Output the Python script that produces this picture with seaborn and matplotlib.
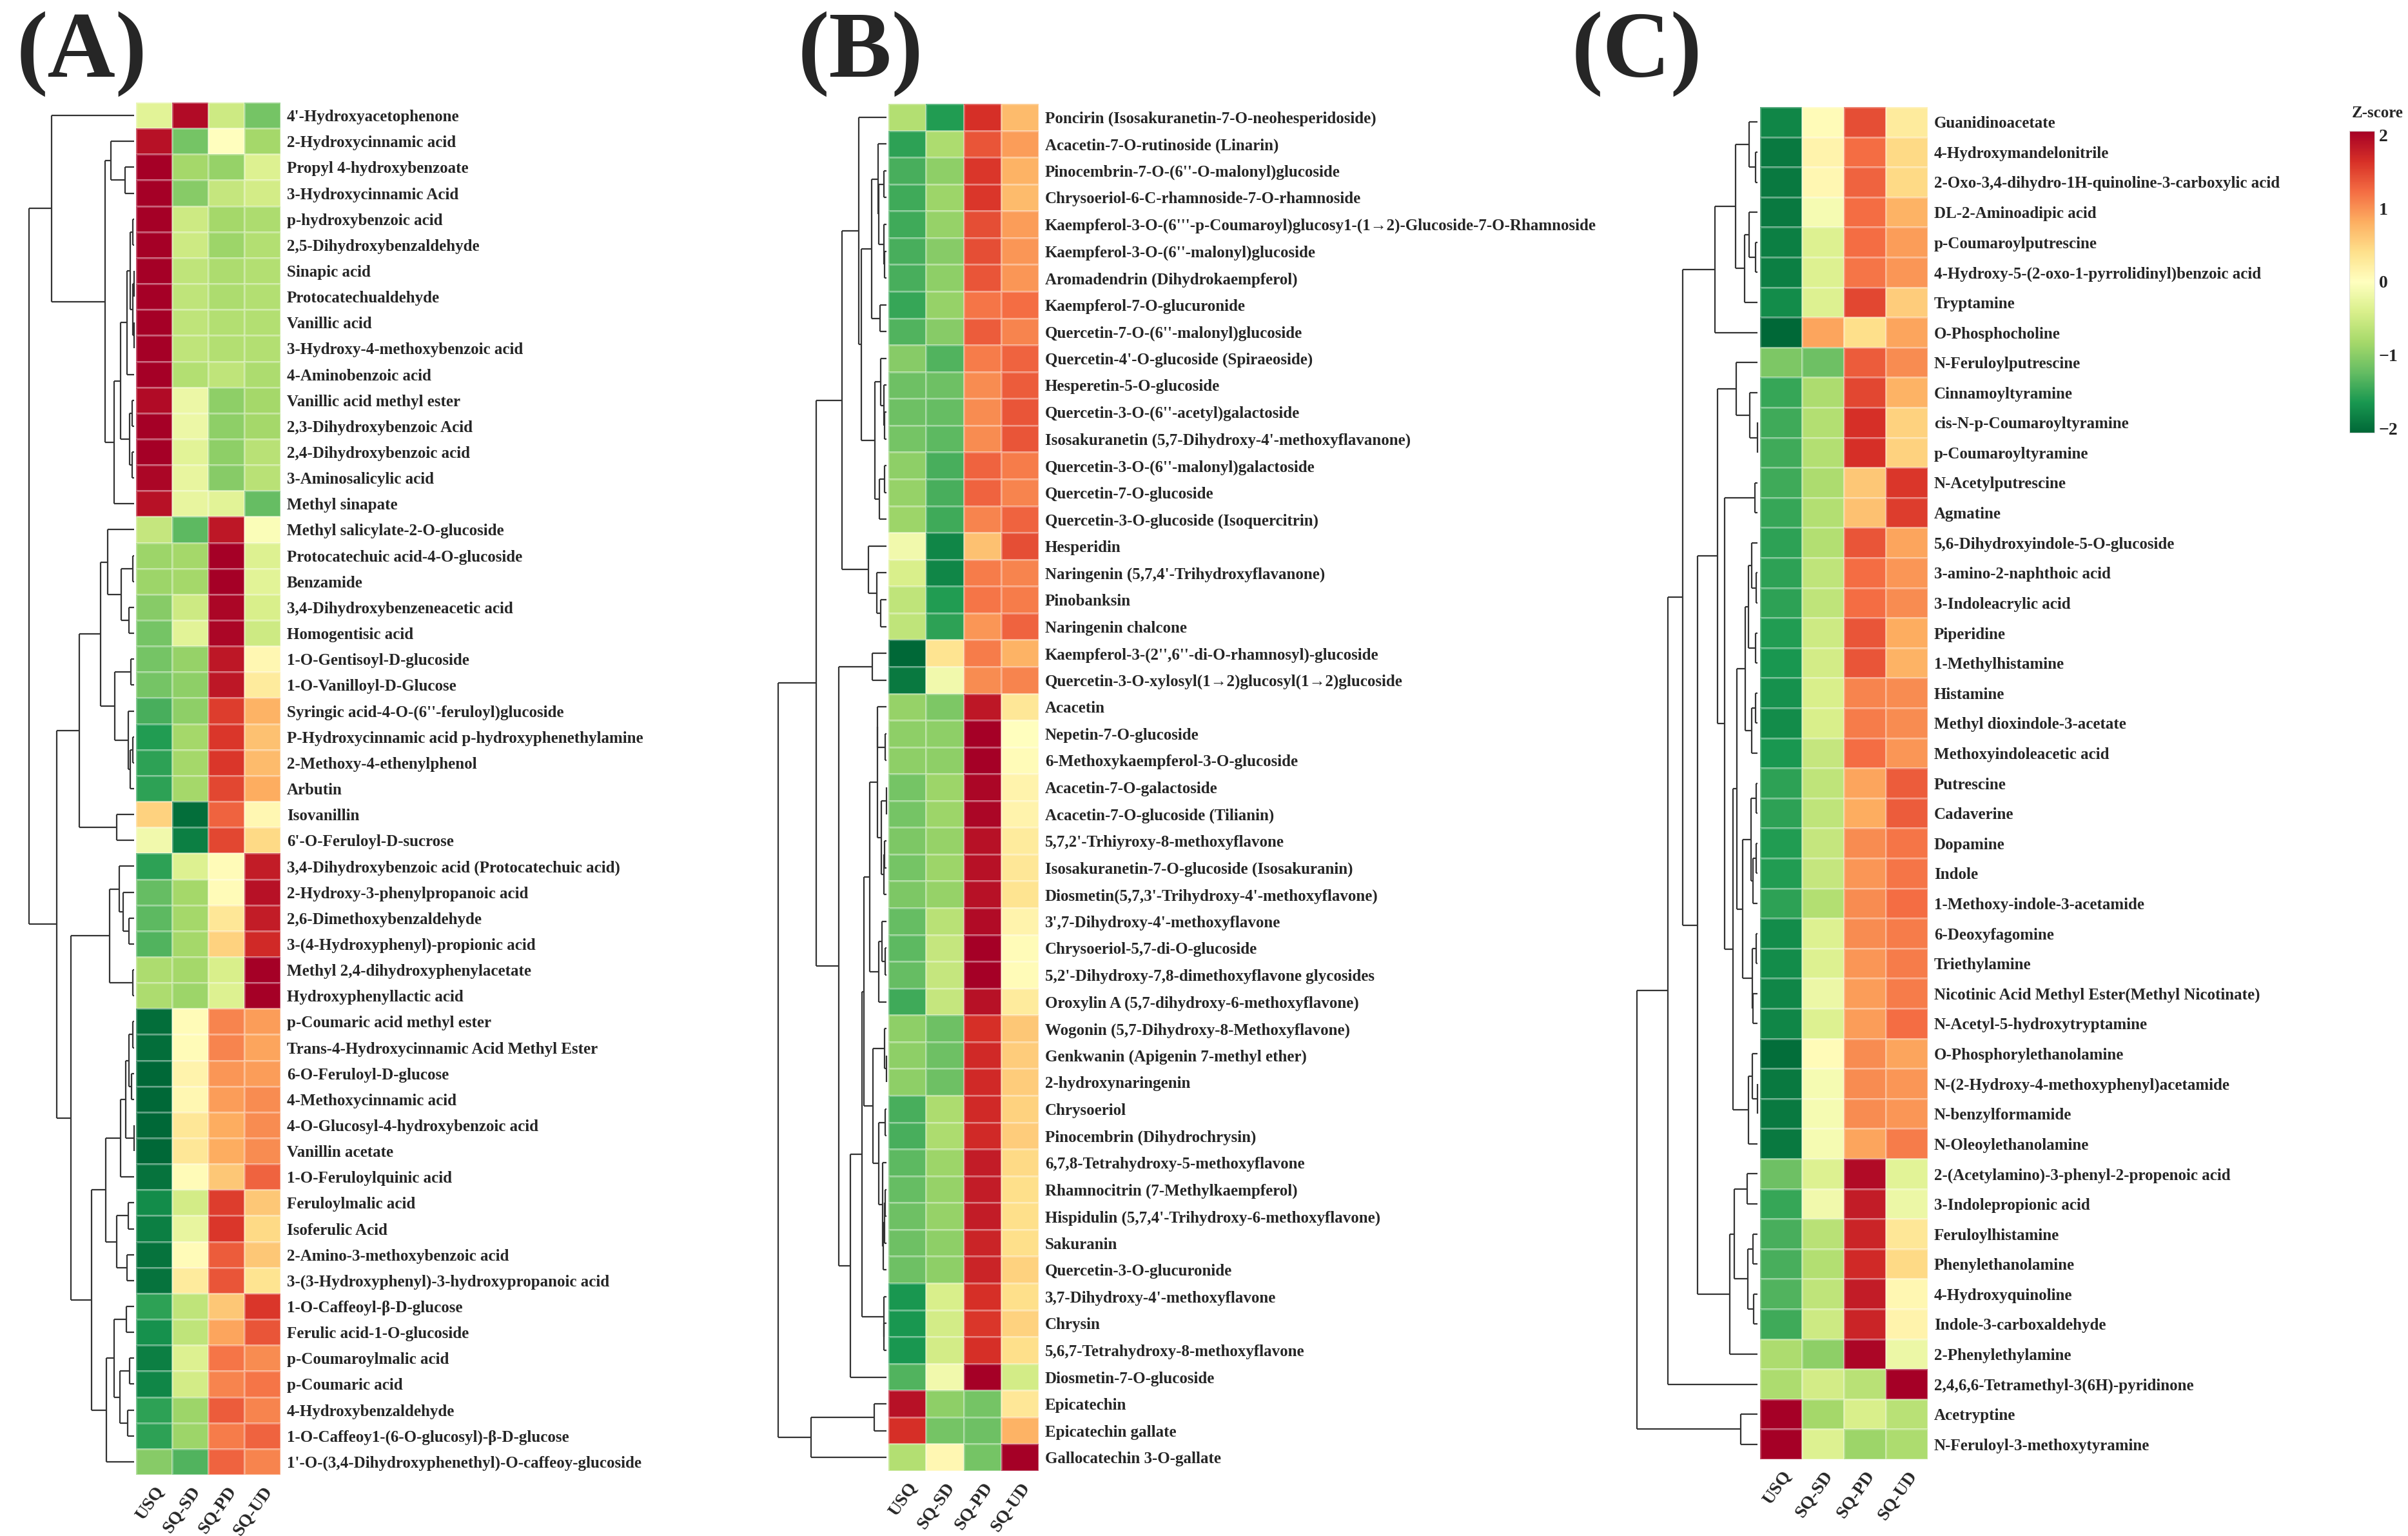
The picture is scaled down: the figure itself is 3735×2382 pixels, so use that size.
import numpy as np
import pandas as pd
import matplotlib
matplotlib.use("Agg")
import matplotlib.pyplot as plt
import seaborn as sns
from matplotlib.collections import LineCollection
from matplotlib.cm import ScalarMappable
from matplotlib.colors import Normalize

# ---------------- data ----------------
groups = ["USQ", "SQ-SD", "SQ-PD", "SQ-UD"]

a_labels = [
    "4'-Hydroxyacetophenone", "2-Hydroxycinnamic acid", "Propyl 4-hydroxybenzoate",
    "3-Hydroxycinnamic Acid", "p-hydroxybenzoic acid", "2,5-Dihydroxybenzaldehyde",
    "Sinapic acid", "Protocatechualdehyde", "Vanillic acid", "3-Hydroxy-4-methoxybenzoic acid",
    "4-Aminobenzoic acid", "Vanillic acid methyl ester", "2,3-Dihydroxybenzoic Acid",
    "2,4-Dihydroxybenzoic acid", "3-Aminosalicylic acid", "Methyl sinapate",
    "Methyl salicylate-2-O-glucoside", "Protocatechuic acid-4-O-glucoside", "Benzamide",
    "3,4-Dihydroxybenzeneacetic acid", "Homogentisic acid", "1-O-Gentisoyl-D-glucoside",
    "1-O-Vanilloyl-D-Glucose", "Syringic acid-4-O-(6''-feruloyl)glucoside",
    "P-Hydroxycinnamic acid p-hydroxyphenethylamine", "2-Methoxy-4-ethenylphenol", "Arbutin",
    "Isovanillin", "6'-O-Feruloyl-D-sucrose", "3,4-Dihydroxybenzoic acid (Protocatechuic acid)",
    "2-Hydroxy-3-phenylpropanoic acid", "2,6-Dimethoxybenzaldehyde",
    "3-(4-Hydroxyphenyl)-propionic acid", "Methyl 2,4-dihydroxyphenylacetate",
    "Hydroxyphenyllactic acid", "p-Coumaric acid methyl ester",
    "Trans-4-Hydroxycinnamic Acid Methyl Ester", "6-O-Feruloyl-D-glucose",
    "4-Methoxycinnamic acid", "4-O-Glucosyl-4-hydroxybenzoic acid", "Vanillin acetate",
    "1-O-Feruloylquinic acid", "Feruloylmalic acid", "Isoferulic Acid",
    "2-Amino-3-methoxybenzoic acid", "3-(3-Hydroxyphenyl)-3-hydroxypropanoic acid",
    "1-O-Caffeoyl-\u03b2-D-glucose", "Ferulic acid-1-O-glucoside", "p-Coumaroylmalic acid",
    "p-Coumaric acid", "4-Hydroxybenzaldehyde", "1-O-Caffeoy1-(6-O-glucosyl)-\u03b2-D-glucose",
    "1'-O-(3,4-Dihydroxyphenethyl)-O-caffeoy-glucoside",
]
a_usq = [-0.3, 1.85, 2.0, 2.0, 2.0, 2.0, 2.0, 2.0, 2.0, 2.0, 2.0, 1.9, 2.0, 2.0, 1.95, 1.85,
         -0.55, -0.85, -0.85, -1.0, -1.1, -1.1, -1.1, -1.35, -1.55, -1.5, -1.5,
         0.5, -0.15, -1.5, -1.2, -1.25, -1.3, -0.75, -0.75,
         -1.95, -1.95, -2.0, -2.0, -2.0, -2.0, -1.9, -1.7, -1.8, -1.9, -1.9,
         -1.5, -1.65, -1.8, -1.75, -1.5, -1.5, -1.0]
a_sd = [1.9, -1.1, -0.8, -1.0, -0.5, -0.5, -0.6, -0.6, -0.6, -0.6, -0.7, -0.2, -0.2, -0.3, -0.25, -0.25,
        -1.25, -0.8, -0.8, -0.5, -0.3, -0.9, -0.95, -0.95, -0.8, -0.8, -0.8,
        -1.95, -1.8, -0.35, -0.8, -0.8, -0.8, -0.8, -0.85,
        0.05, 0.05, 0.15, 0.1, 0.3, 0.3, 0.05, -0.45, -0.25, 0.05, 0.25,
        -0.6, -0.6, -0.35, -0.45, -0.85, -0.85, -1.3]
a_pd = [-0.5, 0.0, -0.9, -0.55, -0.8, -0.85, -0.75, -0.75, -0.7, -0.7, -0.6, -0.95, -0.95, -0.95, -1.0, -0.3,
        1.8, 2.0, 2.0, 1.95, 1.95, 1.8, 1.8, 1.5, 1.55, 1.55, 1.45,
        1.25, 1.45, 0.05, 0.05, 0.3, 0.5, -0.4, -0.35,
        1.05, 1.05, 0.95, 0.9, 0.8, 0.8, 0.6, 1.5, 1.55, 1.3, 1.35,
        0.6, 0.85, 1.15, 1.05, 1.3, 1.1, 1.25]
a_ud = [-1.1, -0.8, -0.35, -0.45, -0.75, -0.7, -0.7, -0.7, -0.7, -0.7, -0.75, -0.8, -0.8, -0.65, -0.65, -1.2,
        -0.05, -0.35, -0.3, -0.4, -0.5, 0.1, 0.25, 0.75, 0.65, 0.7, 0.8,
        0.1, 0.45, 1.75, 1.85, 1.75, 1.65, 2.0, 2.0,
        0.9, 0.85, 0.9, 1.0, 1.0, 1.0, 1.25, 0.6, 0.45, 0.6, 0.35,
        1.55, 1.35, 1.0, 1.15, 1.05, 1.25, 1.05]

b_labels = [
    "Poncirin (Isosakuranetin-7-O-neohesperidoside)", "Acacetin-7-O-rutinoside (Linarin)",
    "Pinocembrin-7-O-(6''-O-malonyl)glucoside", "Chrysoeriol-6-C-rhamnoside-7-O-rhamnoside",
    "Kaempferol-3-O-(6'''-p-Coumaroyl)glucosy1-(1\u21922)-Glucoside-7-O-Rhamnoside",
    "Kaempferol-3-O-(6''-malonyl)glucoside", "Aromadendrin (Dihydrokaempferol)",
    "Kaempferol-7-O-glucuronide", "Quercetin-7-O-(6''-malonyl)glucoside",
    "Quercetin-4'-O-glucoside (Spiraeoside)", "Hesperetin-5-O-glucoside",
    "Quercetin-3-O-(6''-acetyl)galactoside", "Isosakuranetin (5,7-Dihydroxy-4'-methoxyflavanone)",
    "Quercetin-3-O-(6''-malonyl)galactoside", "Quercetin-7-O-glucoside",
    "Quercetin-3-O-glucoside (Isoquercitrin)", "Hesperidin",
    "Naringenin (5,7,4'-Trihydroxyflavanone)", "Pinobanksin", "Naringenin chalcone",
    "Kaempferol-3-(2'',6''-di-O-rhamnosyl)-glucoside",
    "Quercetin-3-O-xylosyl(1\u21922)glucosyl(1\u21922)glucoside", "Acacetin",
    "Nepetin-7-O-glucoside", "6-Methoxykaempferol-3-O-glucoside", "Acacetin-7-O-galactoside",
    "Acacetin-7-O-glucoside (Tilianin)", "5,7,2'-Trhiyroxy-8-methoxyflavone",
    "Isosakuranetin-7-O-glucoside (Isosakuranin)", "Diosmetin(5,7,3'-Trihydroxy-4'-methoxyflavone)",
    "3',7-Dihydroxy-4'-methoxyflavone", "Chrysoeriol-5,7-di-O-glucoside",
    "5,2'-Dihydroxy-7,8-dimethoxyflavone glycosides", "Oroxylin A (5,7-dihydroxy-6-methoxyflavone)",
    "Wogonin (5,7-Dihydroxy-8-Methoxyflavone)", "Genkwanin (Apigenin 7-methyl ether)",
    "2-hydroxynaringenin", "Chrysoeriol", "Pinocembrin (Dihydrochrysin)",
    "6,7,8-Tetrahydroxy-5-methoxyflavone", "Rhamnocitrin (7-Methylkaempferol)",
    "Hispidulin (5,7,4'-Trihydroxy-6-methoxyflavone)", "Sakuranin", "Quercetin-3-O-glucuronide",
    "3,7-Dihydroxy-4'-methoxyflavone", "Chrysin", "5,6,7-Tetrahydroxy-8-methoxyflavone",
    "Diosmetin-7-O-glucoside", "Epicatechin", "Epicatechin gallate", "Gallocatechin 3-O-gallate",
]
b_usq = [-0.7, -1.5, -1.35, -1.4, -1.4, -1.35, -1.35, -1.45, -1.3, -1.0,
         -1.15, -1.15, -1.1, -0.95, -0.9, -0.85, -0.15, -0.4, -0.6, -0.6,
         -2.0, -1.85, -0.9, -0.95, -0.95, -1.1, -1.1, -1.05, -1.1, -1.05,
         -1.2, -1.25, -1.2, -1.4, -0.95, -0.95, -0.95, -1.35, -1.35, -1.25,
         -1.2, -1.15, -1.15, -1.15, -1.6, -1.6, -1.6, -1.3, 1.85, 1.6, -0.7]
b_sd = [-1.55, -0.75, -0.95, -0.85, -0.9, -1.0, -0.95, -0.9, -1.0, -1.3,
        -1.15, -1.2, -1.25, -1.35, -1.35, -1.4, -1.75, -1.75, -1.55, -1.5,
        0.35, -0.15, -1.05, -0.95, -0.95, -0.85, -0.85, -0.9, -0.85, -0.9,
        -0.65, -0.55, -0.55, -0.55, -1.15, -1.15, -1.15, -0.75, -0.75, -0.85,
        -0.9, -0.9, -0.95, -0.95, -0.4, -0.45, -0.45, -0.15, -0.95, -1.1, 0.1]
b_pd = [1.6, 1.35, 1.55, 1.55, 1.4, 1.4, 1.35, 1.15, 1.3, 1.1,
        1.0, 1.0, 1.0, 1.25, 1.25, 1.05, 0.65, 1.1, 1.15, 0.95,
        1.1, 1.0, 1.8, 2.0, 2.0, 1.95, 1.95, 1.85, 1.85, 1.85,
        1.9, 2.0, 2.0, 1.85, 1.6, 1.65, 1.65, 1.65, 1.65, 1.75,
        1.75, 1.75, 1.7, 1.7, 1.6, 1.55, 1.6, 2.0, -1.1, -1.15, -1.1]
b_ud = [0.7, 0.9, 0.75, 0.7, 0.9, 0.95, 0.95, 1.2, 1.05, 1.25,
        1.3, 1.35, 1.35, 1.1, 1.05, 1.25, 1.4, 1.05, 1.1, 1.25,
        0.75, 1.05, 0.3, 0.0, 0.05, 0.15, 0.15, 0.25, 0.3, 0.35,
        0.15, 0.05, 0.05, 0.25, 0.6, 0.55, 0.55, 0.5, 0.55, 0.45,
        0.4, 0.4, 0.4, 0.5, 0.4, 0.5, 0.4, -0.45, 0.3, 0.75, 2.0]

c_labels = [
    "Guanidinoacetate", "4-Hydroxymandelonitrile",
    "2-Oxo-3,4-dihydro-1H-quinoline-3-carboxylic acid", "DL-2-Aminoadipic acid",
    "p-Coumaroylputrescine", "4-Hydroxy-5-(2-oxo-1-pyrrolidinyl)benzoic acid", "Tryptamine",
    "O-Phosphocholine", "N-Feruloylputrescine", "Cinnamoyltyramine", "cis-N-p-Coumaroyltyramine",
    "p-Coumaroyltyramine", "N-Acetylputrescine", "Agmatine", "5,6-Dihydroxyindole-5-O-glucoside",
    "3-amino-2-naphthoic acid", "3-Indoleacrylic acid", "Piperidine", "1-Methylhistamine",
    "Histamine", "Methyl dioxindole-3-acetate", "Methoxyindoleacetic acid", "Putrescine",
    "Cadaverine", "Dopamine", "Indole", "1-Methoxy-indole-3-acetamide", "6-Deoxyfagomine",
    "Triethylamine", "Nicotinic Acid Methyl Ester(Methyl Nicotinate)",
    "N-Acetyl-5-hydroxytryptamine", "O-Phosphorylethanolamine",
    "N-(2-Hydroxy-4-methoxyphenyl)acetamide", "N-benzylformamide", "N-Oleoylethanolamine",
    "2-(Acetylamino)-3-phenyl-2-propenoic acid", "3-Indolepropionic acid", "Feruloylhistamine",
    "Phenylethanolamine", "4-Hydroxyquinoline", "Indole-3-carboxaldehyde", "2-Phenylethylamine",
    "2,4,6,6-Tetramethyl-3(6H)-pyridinone", "Acetryptine", "N-Feruloyl-3-methoxytyramine",
]
c_usq = [-1.75, -1.85, -1.85, -1.85, -1.8, -1.8, -1.7, -2.0, -1.05, -1.45,
         -1.4, -1.4, -1.4, -1.45, -1.5, -1.5, -1.5, -1.55, -1.6, -1.65,
         -1.7, -1.6, -1.5, -1.5, -1.55, -1.55, -1.5, -1.7, -1.7, -1.75,
         -1.75, -1.95, -1.85, -1.85, -1.85, -1.15, -1.45, -1.35, -1.35, -1.3,
         -1.4, -0.75, -0.75, 2.0, 2.0]
c_sd = [0.05, 0.15, 0.1, -0.1, -0.35, -0.35, -0.35, 0.85, -1.15, -0.75,
        -0.7, -0.7, -0.75, -0.7, -0.7, -0.6, -0.6, -0.5, -0.45, -0.4,
        -0.4, -0.55, -0.6, -0.6, -0.55, -0.55, -0.7, -0.35, -0.35, -0.2,
        -0.35, 0.05, -0.1, -0.1, -0.1, -0.35, -0.15, -0.65, -0.7, -0.6,
        -0.5, -0.95, -0.45, -0.8, -0.35]
c_pd = [1.4, 1.2, 1.25, 1.2, 1.2, 1.15, 1.45, 0.4, 1.3, 1.45,
        1.6, 1.6, 0.6, 0.65, 1.35, 1.2, 1.2, 1.35, 1.35, 1.05,
        1.1, 1.2, 0.85, 0.8, 1.0, 0.95, 1.0, 1.0, 0.95, 0.9,
        0.9, 1.0, 1.0, 1.0, 0.85, 1.9, 1.75, 1.7, 1.65, 1.75,
        1.7, 1.95, -0.65, -0.4, -0.85]
c_ud = [0.25, 0.45, 0.45, 0.75, 0.9, 0.95, 0.55, 0.85, 1.0, 0.75,
        0.5, 0.5, 1.55, 1.5, 0.85, 0.95, 1.0, 0.8, 0.75, 1.0,
        1.0, 0.95, 1.3, 1.3, 1.15, 1.15, 1.2, 1.1, 1.1, 1.1,
        1.2, 0.85, 0.95, 0.95, 1.1, -0.3, -0.2, 0.3, 0.45, 0.1,
        0.15, -0.2, 2.0, -0.65, -0.75]

cbar_ticks = [-2, -1, 0, 1, 2]

# ---------------- style ----------------
sns.set_theme(style="white")
plt.rcParams["font.family"] = ["Liberation Serif", "DejaVu Serif"]
plt.rcParams["font.weight"] = "bold"

W, H = 3735, 2382
fig = plt.figure(figsize=(W / 100, H / 100), dpi=100)


def box(l, r, t, b):
    return [l / W, 1 - b / H, (r - l) / W, (b - t) / H]


def order_linkage(X):
    """Complete-linkage clustering of rows, merging only neighbouring clusters
    so that the tree keeps the displayed row order."""
    n = len(X)
    D = np.sqrt(((X[:, None, :] - X[None, :, :]) ** 2).sum(-1))
    clusters = [dict(m=[i], y=i + 0.5, h=0.0) for i in range(n)]
    segs = []
    while len(clusters) > 1:
        dists = [D[np.ix_(clusters[k]["m"], clusters[k + 1]["m"])].max()
                 for k in range(len(clusters) - 1)]
        k = int(np.argmin(dists))
        a, b = clusters[k], clusters[k + 1]
        h = dists[k]
        segs += [[(a["h"], a["y"]), (h, a["y"])],
                 [(b["h"], b["y"]), (h, b["y"])],
                 [(h, a["y"]), (h, b["y"])]]
        clusters[k:k + 2] = [dict(m=a["m"] + b["m"], y=(a["y"] + b["y"]) / 2, h=h)]
    return segs, clusters[0]["h"]


panels = [
    dict(labels=a_labels, cols=[a_usq, a_sd, a_pd, a_ud], heat=(211, 435, 159, 2287),
         dendro=(45, 208), letter="(A)", lx=26),
    dict(labels=b_labels, cols=[b_usq, b_sd, b_pd, b_ud], heat=(1378, 1611, 161, 2281),
         dendro=(1207, 1375), letter="(B)", lx=1238),
    dict(labels=c_labels, cols=[c_usq, c_sd, c_pd, c_ud], heat=(2730, 2990, 166, 2263),
         dendro=(2539, 2726), letter="(C)", lx=2438),
]

fs = 18
cmap = "RdYlGn_r"
for p in panels:
    df = pd.DataFrame(np.column_stack(p["cols"]), index=p["labels"], columns=groups)
    l, r, t, b = p["heat"]
    ax = fig.add_axes(box(l, r, t, b))
    sns.heatmap(df, ax=ax, cmap=cmap, vmin=-2, vmax=2, cbar=False,
                linewidths=0.8, linecolor=(1, 1, 1, 0.3),
                xticklabels=groups, yticklabels=p["labels"])
    ax.yaxis.tick_right()
    ax.tick_params(axis="both", length=0)
    ax.tick_params(axis="y", pad=7)
    ax.tick_params(axis="x", pad=10)
    ax.set_yticklabels(p["labels"], rotation=0, ha="left", fontsize=fs, fontweight="bold")
    ax.set_xticklabels(groups, rotation=55, ha="right", rotation_mode="anchor",
                       fontsize=20, fontweight="bold")
    ax.set_xlabel("")
    ax.set_ylabel("")

    segs, hmax = order_linkage(df.values)
    dl, dr = p["dendro"]
    dax = fig.add_axes(box(dl, dr, t, b))
    dax.add_collection(LineCollection(segs, colors="#333333", linewidths=1.6, clip_on=False))
    dax.set_xlim(hmax, 0)
    dax.set_ylim(len(df), 0)
    dax.axis("off")

    fig.text(p["lx"] / W, 1 - 17 / H, p["letter"], fontsize=105, fontweight="bold",
             ha="left", va="top")

# colour bar
cax = fig.add_axes(box(3644, 3683, 203, 671))
sm = ScalarMappable(norm=Normalize(vmin=-2.06, vmax=2.06), cmap=cmap)
cb = fig.colorbar(sm, cax=cax)
cb.set_ticks(cbar_ticks)
cb.outline.set_edgecolor("#dddddd")
cb.outline.set_linewidth(0.8)
cax.tick_params(axis="y", which="major", direction="in", length=10, width=2.5,
                color="white", left=True, right=True, labelleft=False, labelright=True,
                labelsize=20, pad=5)
for tl in cax.get_yticklabels():
    tl.set_fontweight("bold")
fig.text(3688 / W, 1 - 176 / H, "Z-score", fontsize=18, fontweight="bold",
         ha="center", va="center")

fig.savefig("out.png", dpi=100)
